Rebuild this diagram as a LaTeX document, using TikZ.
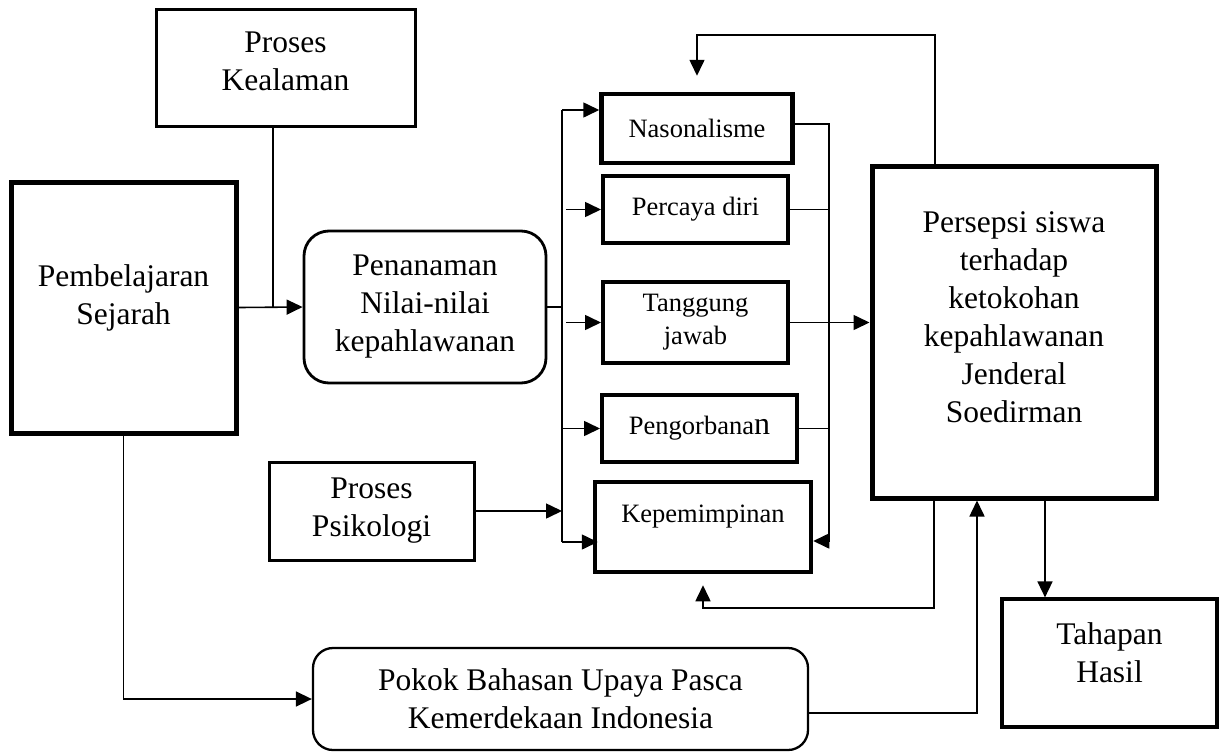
\documentclass[tikz,border=0pt]{standalone}
\usepackage{fontspec}
\setmainfont{Liberation Serif}
\usetikzlibrary{arrows.meta}
\begin{document}
\begin{tikzpicture}[x=1pt,y=-1pt,>={Triangle[length=16pt,width=15pt]},line width=1.6pt,
	big/.style={font=\fontsize{31.5}{38}\selectfont,align=center,inner sep=0pt},
	small/.style={font=\fontsize{26.5}{33}\selectfont,align=center,inner sep=0pt},
	box/.style={draw,line width=#1},box/.default=4.5pt]
				\useasboundingbox (0,0) rectangle (1227,753);
				\node[box=3pt,minimum width=259pt,minimum height=117pt,label={[big,yshift=6pt]center:{Proses\\Kealaman}}] (kealaman) at (285.5,67.5) {};
				\node[box=5pt,minimum width=225pt,minimum height=251pt,label={[big,yshift=10pt]center:{Pembelajaran\\Sejarah}}] (sejarah) at (123.5,307.5) {};
				\node[box=2.8pt,big,rounded corners=25pt,minimum width=242pt,minimum height=152pt] (penanaman) at (425,307) {Penanaman\\Nilai-nilai\\kepahlawanan};
				\node[box,small,minimum width=191pt,minimum height=69pt] (nasional) at (697,128.5) {Nasonalisme};
				\node[box=4pt,small,minimum width=185pt,minimum height=67pt] (percaya) at (695.5,209.5) {Percaya diri};
				\node[box=4pt,small,minimum width=185pt,minimum height=81pt] (tanggung) at (695.5,322.5) {Tanggung\\jawab};
				\node[box=4pt,small,minimum width=195pt,minimum height=67pt] (korban) at (699.5,428.5) {Pengorbana{\fontsize{32}{33}\selectfont n}};
				\node[box,minimum width=216pt,minimum height=90pt,label={[small,yshift=10pt]center:Kepemimpinan}] (pimpin) at (703,527) {};
				\node[box=3pt,big,minimum width=205pt,minimum height=98pt] (psikologi) at (371.5,511) {Proses\\Psikologi};
				\node[box=2.3pt,big,rounded corners=20pt,minimum width=495pt,minimum height=102pt] (pokok) at (560.5,699) {Pokok Bahasan Upaya Pasca\\Kemerdekaan Indonesia};
				\node[box=5pt,minimum width=284pt,minimum height=332pt,label={[big,yshift=15pt]center:{Persepsi siswa\\terhadap\\ketokohan\\kepahlawanan\\Jenderal\\Soedirman}}] (persepsi) at (1014,332) {};
				\node[box=3.2pt,minimum width=215pt,minimum height=128pt,label={[big,yshift=10pt]center:{Tahapan\\Hasil}}] (tahapan) at (1109.5,663) {};
				\coordinate (kj) at (273,307.5);
				\coordinate (lbtop) at (562,110);
				\coordinate (lbbot) at (562,542);
				\coordinate (rbtop) at (829,124);
				\coordinate (rbbot) at (829,541);
				\coordinate (fbtop) at (935,35);
				\coordinate (fbbot) at (934,608);
				\coordinate (pk) at (977,713);
				\coordinate (thx) at (1045,498);
				\draw[->] (sejarah.east) -- (penanaman.west);
				\draw (kealaman.south -| kj) -- (kj);
				\draw (penanaman.east) -- (penanaman.east -| lbtop);
				\draw (lbtop) -- (lbbot);
				\draw[->] (lbtop) -- (lbtop -| nasional.west);
				\draw[->] ([xshift=4pt]percaya.west -| lbtop) -- (percaya.west);
				\draw[->] ([xshift=4pt]tanggung.west -| lbtop) -- (tanggung.west);
				\draw[->] (korban.west -| lbtop) -- (korban.west);
				\draw[->] (lbbot) -- ([xshift=5pt]lbbot -| pimpin.west);
				\draw[->] (psikologi.east) -- (psikologi.east -| lbtop);
				\draw (nasional.east |- rbtop) -- (rbtop) -- (rbbot);
				\draw (percaya.east) -- (percaya.east -| rbtop);
				\draw (korban.east) -- (korban.east -| rbtop);
				\draw[->] (rbbot) -- (rbbot -| pimpin.east);
				\draw[->] (tanggung.east) -- (tanggung.east -| persepsi.west);
				\draw[->] (persepsi.north -| fbtop) -- (fbtop) -- (fbtop -| nasional.north) -- ([yshift=16pt]nasional.north);
				\draw[->] (persepsi.south -| fbbot) -- (fbbot) -- (fbbot -| pimpin.south) -- ([yshift=-11pt]pimpin.south);
				\draw[->] (pokok.east |- pk) -- (pk) -- (pk |- persepsi.south);
				\draw[->] (thx) -- (thx |- tahapan.north);
				\draw[->] (sejarah.south) |- (pokok.west);
			\end{tikzpicture}
\end{document}
